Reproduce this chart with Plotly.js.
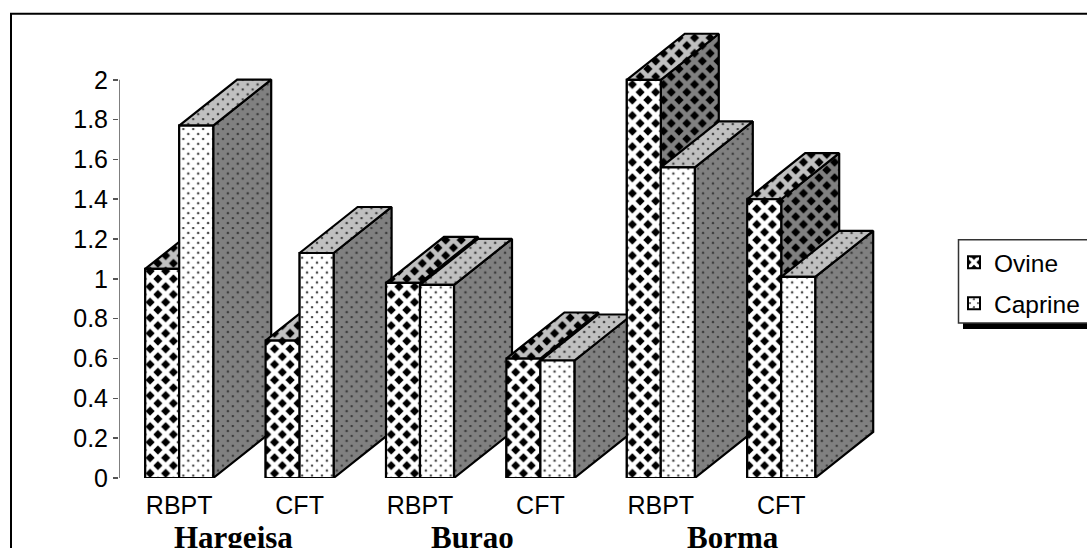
<!DOCTYPE html>
<html><head><meta charset="utf-8">
<script src="https://cdn.plot.ly/plotly-3.0.1.min.js"></script>
<style>html,body{margin:0;padding:0;background:#fff;overflow:hidden}</style>
</head><body><div id="chart" style="width:1087px;height:548px"></div>
<script>
const testLabels = ["RBPT","CFT","RBPT","CFT","RBPT","CFT"];
const siteNames = ["Hargeisa","Burao","Borma"];
const siteCenters = [0.45,2.44,4.6];
const ovine = [1.05,0.69,0.98,0.60,2.00,1.40];
const caprine = [1.77,1.13,0.97,0.59,1.56,1.01];
const yTicks = [0,0.2,0.4,0.6,0.8,1,1.2,1.4,1.6,1.8,2];

const positions = testLabels.map((_,i)=>i);
const UNIT = 120.4;
const W = 34/UNIT, DX = 58/UNIT, DY = 46/199;
const YTOP = 2.25, XEND = 780/UNIT-0.5;
const L = {l:119,r:188,t:30.25,b:70}, PW = 780, PH = 447.75;

const diamond = (fg)=>({shape:'x',fgcolor:fg,bgcolor:'#000',size:11,solidity:0.66,fillmode:'replace'});
const dots = (fg)=>({shape:'x',fgcolor:fg,bgcolor:'#333',size:7,solidity:0.91,fillmode:'replace'});

function face(xs,ys,pat){
  return {type:'scatter',mode:'lines',x:xs,y:ys,fill:'toself',fillpattern:pat,fillcolor:pat.fgcolor,
    line:{color:'#000',width:2.2},showlegend:false,hoverinfo:'skip',cliponaxis:false};
}
function box(x0,v,mk){
  const x1=x0+W, out=[];
  out.push(face([x1,x1+DX,x1+DX,x1,x1],[0,DY,v+DY,v,0],mk('#808080')));
  out.push(face([x0,x0+DX,x1+DX,x1,x0],[v,v+DY,v+DY,v,v],mk('#c0c0c0')));
  out.push(face([x0,x1,x1,x0,x0],[0,0,v,v,0],mk('#ffffff')));
  return out;
}
const barTrace=(name,vals,mk)=>({type:'bar',name:name,legendgroup:name,x:positions,y:vals,
  marker:{color:'#fff',line:{color:'#000',width:2},pattern:mk('#ffffff')},cliponaxis:false});

const traces=[barTrace('Ovine',ovine,diamond),barTrace('Caprine',caprine,dots)];
positions.forEach(i=>{
  traces.push(...box(i-W,ovine[i],diamond));
  traces.push(...box(i,caprine[i],dots));
});

const px=(x)=>(x-L.l)/PW, py=(y)=>(548-L.b-y)/PH;
const rect=(x0,y0,x1,y1,o)=>Object.assign({type:'rect',xref:'paper',yref:'paper',x0:px(x0),x1:px(x1),y0:py(y0),y1:py(y1)},o);

const layout={
  width:1087,height:548,margin:Object.assign({autoexpand:false,pad:0},L),
  paper_bgcolor:'#fff',plot_bgcolor:'rgba(0,0,0,0)',barmode:'group',bargap:1-2*W,bargroupgap:0,
  font:{family:'"Liberation Sans",Arial,sans-serif',size:25,color:'#000'},
  xaxis:{range:[-0.5,XEND],tickmode:'array',tickvals:positions,ticktext:testLabels,showgrid:false,zeroline:false,showline:false,
    ticks:'outside',ticklen:5,tickcolor:'rgba(0,0,0,0)',tickfont:{size:25}},
  yaxis:{range:[0,YTOP],tickmode:'array',tickvals:yTicks,ticktext:yTicks.map(String),showgrid:false,zeroline:false,showline:false,
    ticks:'outside',ticklen:5,tickcolor:'#555',tickwidth:1.5,tickfont:{size:25}},
  showlegend:true,
  legend:{x:px(954),xanchor:'left',y:py(240),yanchor:'top',bgcolor:'rgba(0,0,0,0)',borderwidth:0,
    traceorder:'grouped',tracegroupgap:6,font:{size:24.5},itemclick:false},
  shapes:[
    rect(11,14,1100,560,{line:{color:'#000',width:2},layer:'below'}),
    rect(963,323,1100,329,{fillcolor:'#000',line:{width:0},layer:'below'}),
    rect(958.5,240,1100,323,{fillcolor:'#fff',line:{color:'#333',width:1.5},layer:'below'}),
    {type:'line',xref:'x',yref:'y',x0:-0.5,x1:-0.5,y0:0,y1:2,line:{color:'#555',width:1.5}}
  ],
  annotations:siteNames.map((t,k)=>({text:'<b>'+t+'</b>',x:siteCenters[k],xref:'x',y:py(547),yref:'paper',yanchor:'bottom',
    showarrow:false,xanchor:'center',font:{family:'"Liberation Serif","Times New Roman",serif',size:31,color:'#000'},yshift:-10}))
};
Plotly.newPlot('chart',traces,layout,{displayModeBar:false,staticPlot:true});
</script></body></html>
